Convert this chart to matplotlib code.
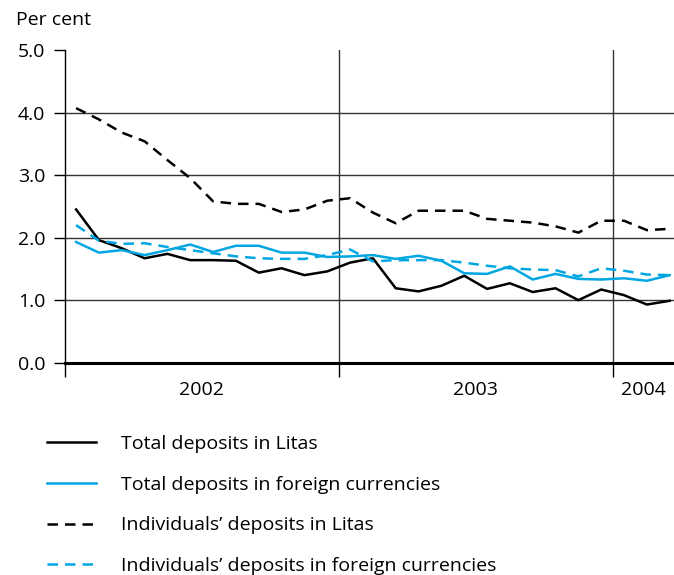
import matplotlib
matplotlib.use("Agg")
import matplotlib.pyplot as plt
import numpy as np

months = ["2002-01","2002-02","2002-03","2002-04","2002-05","2002-06","2002-07","2002-08","2002-09","2002-10","2002-11","2002-12",
          "2003-01","2003-02","2003-03","2003-04","2003-05","2003-06","2003-07","2003-08","2003-09","2003-10","2003-11","2003-12",
          "2004-01","2004-02","2004-03"]
total_litas = [2.45,1.96,1.83,1.67,1.74,1.64,1.64,1.63,1.44,1.51,1.40,1.46,
               1.60,1.67,1.19,1.14,1.23,1.39,1.18,1.27,1.13,1.19,1.00,1.17,
               1.08,0.93,0.99]
total_foreign = [1.93,1.76,1.80,1.72,1.80,1.89,1.77,1.87,1.87,1.76,1.76,1.69,
                 1.70,1.72,1.66,1.71,1.63,1.43,1.42,1.54,1.33,1.42,1.34,1.33,
                 1.35,1.31,1.40]
indiv_litas = [4.07,3.89,3.68,3.54,3.24,2.95,2.58,2.54,2.54,2.41,2.45,2.59,
               2.63,2.40,2.23,2.43,2.43,2.43,2.30,2.27,2.24,2.18,2.08,2.27,
               2.27,2.12,2.14]
indiv_foreign = [2.20,1.95,1.90,1.91,1.85,1.80,1.75,1.70,1.67,1.66,1.66,1.72,
                 1.81,1.62,1.64,1.64,1.64,1.60,1.55,1.51,1.49,1.48,1.38,1.51,
                 1.47,1.41,1.40]
years = ["2002", "2003", "2004"]
yticks = [0.0, 1.0, 2.0, 3.0, 4.0, 5.0]
labels = ["Total deposits in Litas", "Total deposits in foreign currencies",
          "Individuals\u2019 deposits in Litas", "Individuals\u2019 deposits in foreign currencies"]

BLUE = "#00a6e2"
FONT = "Open Sans"
FS = 14

fig = plt.figure(figsize=(6.74, 5.75), dpi=100)
ax = fig.add_axes([64.7/674, 1-362.7/575, (674-64.7)/674, (362.7-50)/575])

x = np.arange(len(months)) + 0.5
DASH = (4.2, 2.8)
l1, = ax.plot(x, total_litas, color="black", lw=1.8)
l2, = ax.plot(x, total_foreign, color=BLUE, lw=1.8)
l3, = ax.plot(x, indiv_litas, color="black", lw=1.8, dashes=DASH)
l4, = ax.plot(x, indiv_foreign, color=BLUE, lw=1.8, dashes=DASH)

ax.set_xlim(0, (674-64.7)/22.83)
ax.set_ylim(0, 5)
for v in yticks[1:-1]:
    ax.axhline(v, color="#333333", lw=1.0, zorder=0)
for b in [12, 24]:
    ax.axvline(b, color="#333333", lw=1.0, zorder=0)

ax.spines["top"].set_visible(False)
ax.spines["right"].set_visible(False)
ax.spines["left"].set_linewidth(1.0)
ax.spines["bottom"].set_linewidth(2.2)

ax.set_yticks(yticks)
ax.set_yticklabels([f"{v:.1f}" for v in yticks], fontsize=FS, family=FONT)
ax.tick_params(axis="y", direction="out", length=8, width=1.0, pad=6)

ax.set_xticks([0, 12, 24])
ax.set_xticklabels([])
ax.tick_params(axis="x", which="major", direction="out", length=10, width=1.0)
year_centers = [6, 18, (24 + ax.get_xlim()[1]) / 2]
ax.set_xticks(year_centers, minor=True)
ax.set_xticklabels(years, minor=True, fontsize=FS, family=FONT)
ax.tick_params(axis="x", which="minor", length=0, pad=13)

fig.text(16/674, 1-20/575, "Per cent", fontsize=FS, family=FONT, va="center", ha="left")

leg = fig.legend([l1, l2, l3, l4], labels, loc="upper left",
                 bbox_to_anchor=(47/674, 1-435/575), frameon=False,
                 borderpad=0, borderaxespad=0,
                 prop={"family": FONT, "size": FS}, handlelength=2.5,
                 handletextpad=1.3, labelspacing=1.17)

fig.savefig("out.png", dpi=100)
